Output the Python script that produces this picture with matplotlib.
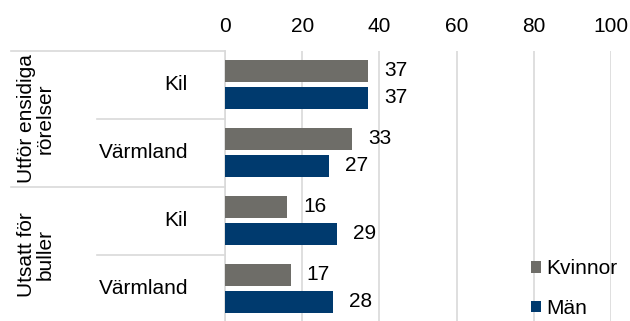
import matplotlib
matplotlib.use('Agg')
import matplotlib.pyplot as plt
import matplotlib.transforms as mtransforms
import numpy as np

# data
groups = ['Utför ensidiga\nrörelser', 'Utsatt för\nbuller']
places = ['Kil', 'Värmland', 'Kil', 'Värmland']
kvinnor = [37, 33, 16, 17]
man = [37, 27, 29, 28]
xticks = [0, 20, 40, 60, 80, 100]

plt.rcParams['font.family'] = ['Liberation Sans', 'DejaVu Sans']
grey = '#6e6d68'
blue = '#003a6e'
line_col = '#d9d9d9'
fs = 15

fig = plt.figure(figsize=(6.3, 3.21), dpi=100)
ax = fig.add_axes([225 / 630, -2 / 321, 386 / 630, 272 / 321])

y = np.arange(len(places))
h = 0.32
ax.barh(y - 0.21, kvinnor, height=h, color=grey, label='Kvinnor', zorder=3)
ax.barh(y + 0.19, man, height=h, color=blue, label='Män', zorder=3)

# value labels
for yi, v in zip(y, kvinnor):
    ax.text(v + 4.2, yi - 0.21, str(v), va='center', ha='left', fontsize=fs)
for yi, v in zip(y, man):
    ax.text(v + 4.2, yi + 0.19, str(v), va='center', ha='left', fontsize=fs)

ax.set_xlim(0, 100)
ax.set_ylim(3.5, -0.5)
ax.set_xticks(xticks)
ax.xaxis.tick_top()
ax.tick_params(axis='x', length=0, pad=11, labelsize=fs)
ax.set_yticks([])
ax.grid(axis='x', color=line_col, linewidth=1.2, zorder=0)
for s in ['right', 'bottom', 'top']:
    ax.spines[s].set_visible(False)
ax.spines['left'].set_color(line_col)
ax.spines['left'].set_linewidth(1.2)

# multi-level category axis on the left
tr = mtransforms.blended_transform_factory(ax.transAxes, ax.transData)
px = 1 / 386  # one pixel in axes fraction
for yi, name in zip(y, places):
    ax.text(-37 * px, yi, name, transform=tr, ha='right', va='center',
            fontsize=fs, clip_on=False)
for gi, g in enumerate(groups):
    ax.text(-189 * px, gi * 2 + 0.5, g, transform=tr, ha='center', va='center',
            rotation=90, fontsize=fs, linespacing=1.0, clip_on=False)

# separator lines
for ly in [-0.5, 1.5]:
    ax.plot([-214 * px, 0], [ly, ly], transform=tr, color=line_col,
            linewidth=1.2, clip_on=False)
for ly in [0.5, 2.5]:
    ax.plot([-128 * px, 0], [ly, ly], transform=tr, color=line_col,
            linewidth=1.2, clip_on=False)

leg = fig.legend(loc='upper left', bbox_to_anchor=(531 / 630, 1 - 259 / 321),
                 frameon=False, fontsize=fs, handlelength=0.5, handleheight=0.5,
                 handletextpad=0.25, labelspacing=1.0, borderaxespad=0,
                 borderpad=0)

fig.savefig('out.png', dpi=100)
